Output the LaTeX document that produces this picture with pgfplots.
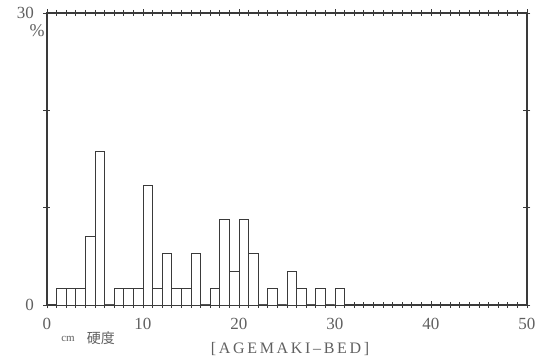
\documentclass[border=0pt]{standalone}
\usepackage{pgfplots}
\pgfplotsset{compat=1.18}
\usepackage{fontspec}
\setmainfont{Liberation Serif}
\newfontfamily\cjk{Noto Sans CJK JP}
\definecolor{ink}{HTML}{3A3A3A}
\definecolor{txt}{HTML}{606060}
\begin{document}
\begin{tikzpicture}
\begin{axis}[
  scale only axis, width=480pt, height=292pt,
  xmin=0, xmax=50, ymin=0, ymax=30,
  axis line style={line width=1.1pt, color=ink},
  xtick={0,10,...,50}, minor x tick num=9,
  ytick={0,10,20,30}, yticklabels={0,,,30},
  tick align=center,
  major tick length=7pt, minor tick length=6pt,
  tick style={color=ink, line width=0.6pt},
  /pgf/number format/assume math mode=true,
  tick label style={font=\fontsize{17}{19}\selectfont, color=txt},
  xticklabel style={yshift=-6pt},
  yticklabel style={xshift=-6pt},
]
\addplot[ybar interval, draw=ink, fill=white, line width=0.6pt] coordinates {
(1,1.754) (2,1.754) (3,1.754) (4,7.018) (5,15.789) (6,0) (7,1.754) (8,1.754) (9,1.754) (10,12.281)
(11,1.754) (12,5.263) (13,1.754) (14,1.754) (15,5.263) (16,0) (17,1.754) (18,8.772) (19,3.509) (20,8.772)
(21,5.263) (22,0) (23,1.754) (24,0) (25,3.509) (26,1.754) (27,0) (28,1.754) (29,0) (30,1.754) (31,0)
};
\end{axis}
\node[color=txt, font=\fontsize{18}{20}\selectfont] at (-10pt,274pt) {\%};
\node[color=txt, font=\fontsize{11}{12}\selectfont] at (21pt,-34pt) {cm};
\node[color=txt, font=\cjk\fontsize{14}{16}\selectfont] at (54pt,-33pt) {硬度};
\node[color=txt, font=\fontsize{16}{18}\selectfont] at (243pt,-44pt) {[\,A\,G\,E\,M\,A\,K\,I\,--\,B\,E\,D\,]};
\pgfresetboundingbox
\useasboundingbox (-47pt,-51pt) rectangle (503pt,305pt);
\end{tikzpicture}
\end{document}
